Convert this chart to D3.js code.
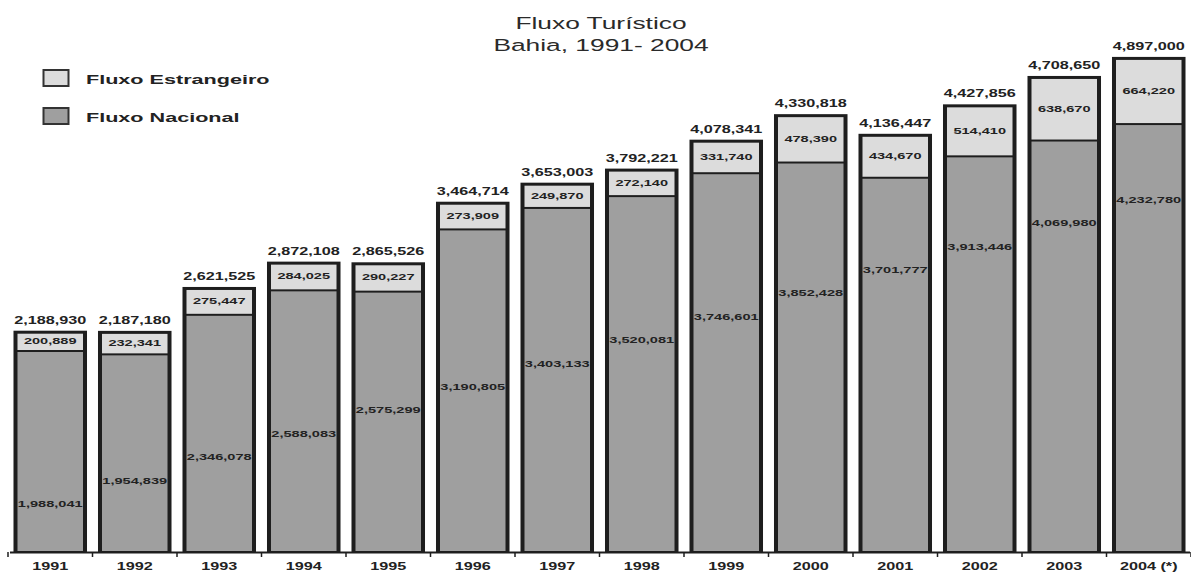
<!DOCTYPE html>
<html>
<head>
<meta charset="utf-8">
<script src="https://cdn.jsdelivr.net/npm/d3@7"></script>
<style>
  html, body { margin: 0; padding: 0; background: #fff; }
  svg { display: block; }
</style>
</head>
<body>
<svg id="chart" width="1191" height="576"></svg>
<script>
// Tourist flow into Bahia, 1991-2004: domestic + foreign visitors per year
const years = ["1991", "1992", "1993", "1994", "1995", "1996", "1997",
               "1998", "1999", "2000", "2001", "2002", "2003", "2004 (*)"];
const nacional = [1988041, 1954839, 2346078, 2588083, 2575299, 3190805, 3403133,
                  3520081, 3746601, 3852428, 3701777, 3913446, 4069980, 4232780];
const estrangeiro = [200889, 232341, 275447, 284025, 290227, 273909, 249870,
                     272140, 331740, 478390, 434670, 514410, 638670, 664220];
const seriesNames = ["Fluxo Estrangeiro", "Fluxo Nacional"];
const titleLines = ["Fluxo Turístico", "Bahia, 1991- 2004"];

const W = 1191, H = 576;
const baseY = 552;
const SX = 1.62;                // the printed text is set wide
const ink = "#1e1e1e";
const fillNac = "#9f9f9f";
const fillEst = "#dcdcdc";

const rows = years.map((yr, i) => ({
  year: yr, i,
  nac: nacional[i],
  est: estrangeiro[i],
  total: nacional[i] + estrangeiro[i]
}));

const svg = d3.select("#chart");

const x = d3.scaleBand()
  .domain(years)
  .range([8, 1191])
  .paddingInner(0.13)
  .paddingOuter(0.065);

const y = d3.scaleLinear()
  .domain([0, 5000000])
  .range([baseY, baseY - 505.5]);

const fmt = d3.format(",");

// text helper: horizontally widened glyphs
function wideText(g, tx, ty, str, size, weight, anchor, sx = SX, color = "#222") {
  return g.append("text")
    .attr("transform", `translate(${tx},${ty}) scale(${sx},1)`)
    .attr("text-anchor", anchor)
    .attr("font-family", "Liberation Sans, Arial, sans-serif")
    .attr("font-size", size)
    .attr("font-weight", weight)
    .attr("fill", color)
    .text(str);
}

// ---- title
const tg = svg.append("g");
wideText(tg, 601, 29, titleLines[0], 17, "normal", "middle", 1.55, "#2a2a2a");
wideText(tg, 601, 51, titleLines[1], 17, "normal", "middle", 1.55, "#2a2a2a");

// ---- legend
const lg = svg.append("g");
[fillEst, fillNac].forEach((c, k) => {
  const ly = 70 + k * 38;
  lg.append("rect")
    .attr("x", 43.5).attr("y", ly).attr("width", 25).attr("height", 16)
    .attr("fill", c).attr("stroke", "#333").attr("stroke-width", 2);
  wideText(lg, 86, ly + 14, seriesNames[k], 13.5, "bold", "start", 1.6, "#222");
});

// ---- bars
const bars = svg.append("g").selectAll("g.bar").data(rows).join("g").attr("class", "bar");
const bw = x.bandwidth();
const sideB = 4, topB = 3, divB = 2;

// dark frame of each stacked column
bars.append("rect")
  .attr("x", d => x(d.year))
  .attr("y", d => y(d.total))
  .attr("width", bw)
  .attr("height", d => baseY - y(d.total))
  .attr("fill", ink);

// foreign segment (top)
bars.append("rect")
  .attr("x", d => x(d.year) + sideB)
  .attr("y", d => y(d.total) + topB)
  .attr("width", bw - 2 * sideB)
  .attr("height", d => y(d.nac) - y(d.total) - topB - divB / 2)
  .attr("fill", fillEst);

// domestic segment (bottom)
bars.append("rect")
  .attr("x", d => x(d.year) + sideB)
  .attr("y", d => y(d.nac) + divB / 2)
  .attr("width", bw - 2 * sideB)
  .attr("height", d => baseY - y(d.nac) - divB / 2 - 1)
  .attr("fill", fillNac);

// total above each column
bars.each(function (d) {
  const g = d3.select(this);
  const cx = x(d.year) + bw / 2;
  wideText(g, cx, y(d.total) - 7, fmt(d.total), 10, "bold", "middle");
  // foreign value, centred in its segment
  const midEst = (y(d.total) + y(d.nac)) / 2;
  wideText(g, cx, midEst + 3.3, fmt(d.est), 9, "bold", "middle");
  // domestic value, stepping up from column to column
  wideText(g, cx, 507 - d.i * 23.4, fmt(d.nac), 9, "bold", "middle");
});

// ---- x axis
const axis = d3.axisBottom(x).tickSize(0).tickPadding(0);
const ag = svg.append("g").attr("transform", `translate(0,${baseY})`);
ag.append("line")
  .attr("x1", x.range()[0] + 2).attr("x2", x.range()[1] - 1)
  .attr("y1", 0.5).attr("y2", 0.5)
  .attr("stroke", ink).attr("stroke-width", 2);
const bounds = years.map(yr => x(yr) - x.step() * x.paddingInner() / 2);
bounds.push(x(years[years.length - 1]) + bw + x.step() * x.paddingInner() / 2);
ag.selectAll("line.tick").data(bounds).join("line")
  .attr("class", "tick")
  .attr("x1", d => d).attr("x2", d => d)
  .attr("y1", 0).attr("y2", 5)
  .attr("stroke", ink).attr("stroke-width", 1.5);
ag.selectAll("g.lbl").data(years).join("g").attr("class", "lbl")
  .each(function (yr) {
    wideText(d3.select(this), x(yr) + bw / 2, 18, yr, 10, "bold", "middle");
  });
</script>
</body>
</html>
